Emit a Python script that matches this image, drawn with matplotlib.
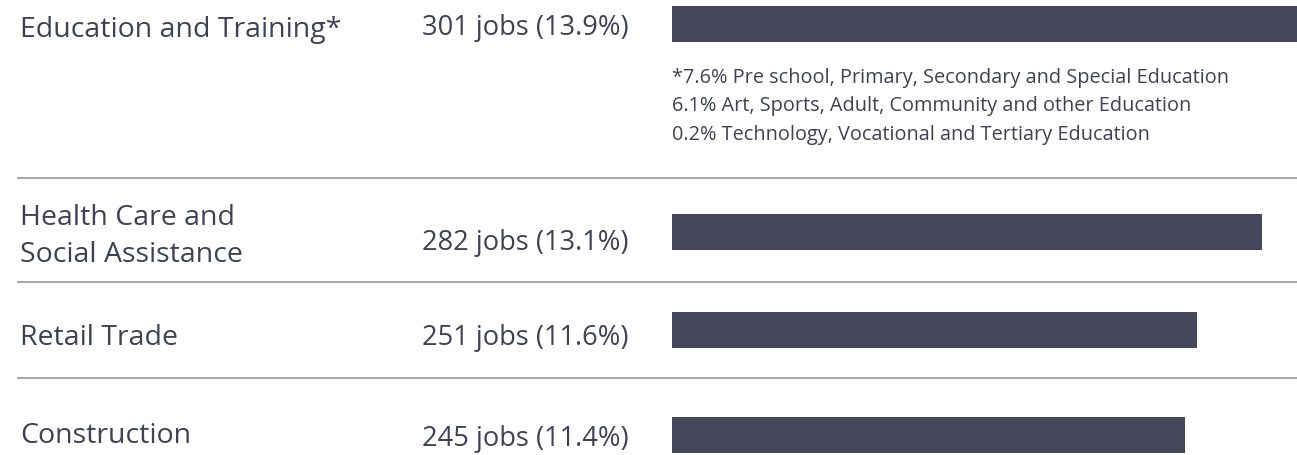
#!/usr/bin/env python3
"""Top industries by jobs - horizontal bar rows."""

import matplotlib
matplotlib.use("Agg")
import matplotlib.pyplot as plt
from matplotlib.lines import Line2D

W, H = 1297, 456

industries = ["Education and Training*", "Health Care and\nSocial Assistance", "Retail Trade", "Construction"]
jobs = [301, 282, 251, 245]
shares = [13.9, 13.1, 11.6, 11.4]
footnote = [
    "*7.6% Pre school, Primary, Secondary and Special Education",
    "6.1% Art, Sports, Adult, Community and other Education",
    "0.2% Technology, Vocational and Tertiary Education",
]

COLORS = {
    "bar": "#44475c",
    "text": "#3f4257",
    "rule": "#9e9eaa",
}

plt.rcParams["font.family"] = ["Open Sans", "DejaVu Sans"]

# layout in pixels (from top)
bar_y = [25, 233, 331, 436]
label_base = [37, 225, 345, 443]
value_base = [35, 250, 345, 446]
rules_y = [179, 283, 379]
foot_base = [83, 111, 140]
line_gap = 37
bar_h = 36
bar_x0 = 672

fig = plt.figure(figsize=(W / 100, H / 100), dpi=100)
ax = fig.add_axes([bar_x0 / W, 0, (W - bar_x0) / W, 1])
ax.set_xlim(0, 298.7)
ax.set_ylim(H, 0)
ax.set_axis_off()
ax.barh(bar_y, jobs, height=bar_h, color=COLORS["bar"], left=0)


def fx(px):
    return px / W


def fy(py):
    return 1 - py / H


for y in rules_y:
    fig.add_artist(Line2D([fx(18), 1], [fy(y), fy(y)], color=COLORS["rule"], lw=1.3))

for name, n, pct, lb, vb in zip(industries, jobs, shares, label_base, value_base):
    for k, part in enumerate(name.split("\n")):
        fig.text(fx(20), fy(lb + k * line_gap), part, fontsize=20.5, color=COLORS["text"],
                 ha="left", va="baseline")
    fig.text(fx(422), fy(vb), f"{n} jobs ({pct}%)", fontsize=19.6, color=COLORS["text"],
             ha="left", va="baseline")

for line, yb in zip(footnote, foot_base):
    fig.text(fx(bar_x0), fy(yb), line, fontsize=14.3, color=COLORS["text"],
             ha="left", va="baseline")

fig.savefig("out.png", dpi=100, facecolor="white")
